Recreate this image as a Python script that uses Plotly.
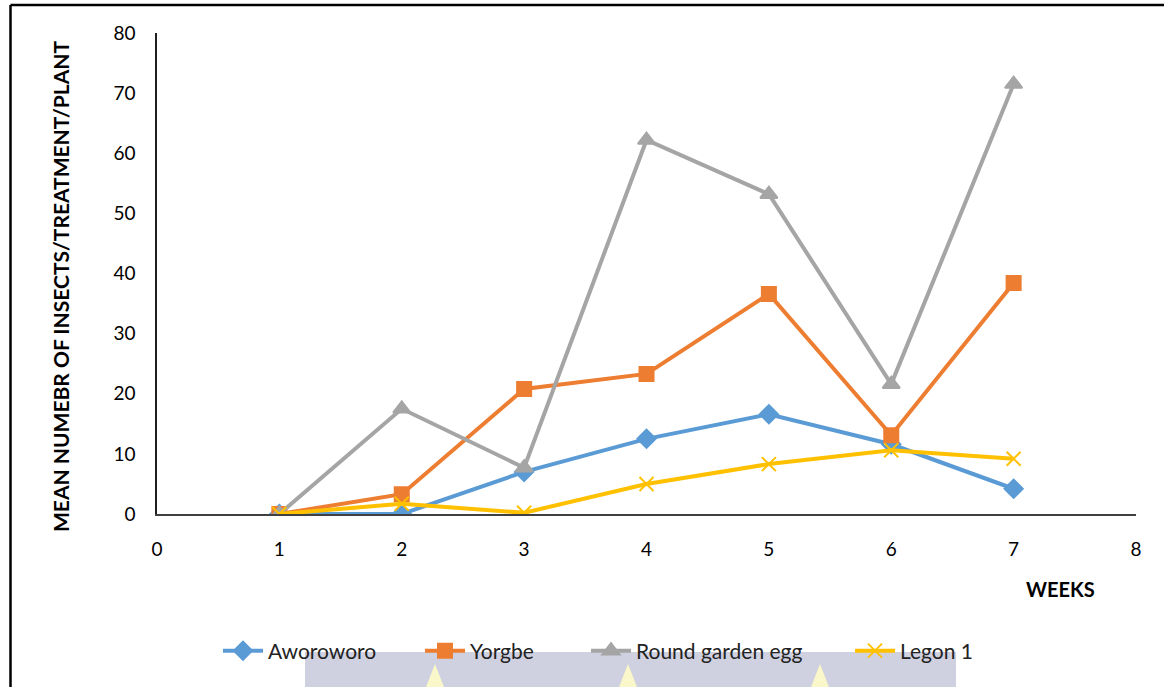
import plotly.graph_objects as go

# Weekly mean insect counts per treatment/plant for four eggplant varieties
weeks = [1, 2, 3, 4, 5, 6, 7]
aworoworo = [0, 0, 7.0, 12.5, 16.6, 11.6, 4.2]
yorgbe = [0, 3.3, 20.8, 23.3, 36.6, 13.1, 38.4]
round_garden_egg = [0, 17.5, 7.7, 62.2, 53.2, 21.6, 71.5]
legon_1 = [0, 1.7, 0.2, 5.0, 8.3, 10.6, 9.2]

x_ticks = [0, 1, 2, 3, 4, 5, 6, 7, 8]
y_ticks = [0, 10, 20, 30, 40, 50, 60, 70, 80]

W, H = 1164, 687
L, R, T, B = 157, 28, 33, 173
FONT = "Lato, 'Open Sans', sans-serif"


def px_to_paper(px, py):
    pw, ph = W - L - R, H - T - B
    return (px - L) / pw, (H - B - py) / ph


# name, values, colour, marker, size, legend id, legend left edge (px)
series = [
    ("Aworoworo", aworoworo, "#5B9BD5", "diamond", 14, "legend", 218),
    ("Yorgbe", yorgbe, "#ED7D31", "square", 14, "legend2", 420),
    ("Round garden egg", round_garden_egg, "#A5A5A5", "triangle-up", 15, "legend3", 586),
    ("Legon 1", legon_1, "#FFC000", "x-thin-open", 14, "legend4", 850),
]

fig = go.Figure()
legend_layout = {}
for name, vals, color, sym, size, leg, lx in series:
    fig.add_trace(go.Scatter(
        x=weeks, y=vals, name=name, mode="lines+markers", legend=leg,
        line=dict(color=color, width=4),
        marker=dict(symbol=sym, size=size, color=color,
                    line=dict(color=color, width=2)),
    ))
    px_, py_ = px_to_paper(lx, 651)
    legend_layout[leg] = dict(
        orientation="h", x=px_, xanchor="left", y=py_, yanchor="middle",
        bgcolor="rgba(0,0,0,0)", font=dict(size=21, color="#222"), itemwidth=40,
    )

shapes = []
# faint band behind the lower legend area
x0, y0 = px_to_paper(305, 652)
x1, y1 = px_to_paper(956, 700)
shapes.append(dict(type="rect", xref="paper", yref="paper", x0=x0, y0=y1, x1=x1, y1=y0,
                   fillcolor="rgba(200,201,218,0.85)", line=dict(width=0), layer="below"))
for cx in (435, 628, 820):
    ax, ay = px_to_paper(cx, 664)
    bl, by = px_to_paper(cx - 14, 700)
    br, _ = px_to_paper(cx + 14, 700)
    shapes.append(dict(type="path", xref="paper", yref="paper",
                       path=f"M {ax} {ay} L {br} {by} L {bl} {by} Z",
                       fillcolor="rgba(252,250,200,0.95)", line=dict(width=0), layer="below"))
# outer frame (left and top edges)
fx, fy_top = px_to_paper(10.5, 5)
_, fy_bot = px_to_paper(10.5, 700)
rx, _ = px_to_paper(1170, 5)
shapes.append(dict(type="line", xref="paper", yref="paper", x0=fx, x1=fx, y0=fy_bot, y1=fy_top,
                   line=dict(color="black", width=2.5)))
shapes.append(dict(type="line", xref="paper", yref="paper", x0=fx, x1=rx, y0=fy_top, y1=fy_top,
                   line=dict(color="black", width=2.5)))

ytx, yty = px_to_paper(60, 286)
wkx, wky = px_to_paper(1060, 589)

fig.update_layout(
    width=W, height=H,
    margin=dict(l=L, r=R, t=T, b=B),
    paper_bgcolor="white", plot_bgcolor="white",
    font=dict(family=FONT, color="black"),
    showlegend=True,
    xaxis=dict(range=[0, 8], tickvals=x_ticks, showgrid=False, zeroline=False,
               showline=True, linecolor="#404040", linewidth=1.5, ticks="",
               ticklabelstandoff=17, tickfont=dict(size=19, color="black")),
    yaxis=dict(range=[0, 80], tickvals=y_ticks, showgrid=False, zeroline=False,
               showline=True, linecolor="#202020", linewidth=1.5, ticks="",
               ticklabelstandoff=16, tickfont=dict(size=19, color="black")),
    shapes=shapes,
    annotations=[
        dict(text="<b>MEAN NUMEBR OF INSECTS/TREATMENT/PLANT</b>", xref="paper", yref="paper",
             x=ytx, y=yty, xanchor="center", yanchor="middle", textangle=-90,
             showarrow=False, font=dict(size=21, color="black")),
        dict(text="<b>WEEKS</b>", xref="paper", yref="paper", x=wkx, y=wky,
             xanchor="center", yanchor="middle",
             showarrow=False, font=dict(size=20, color="black")),
    ],
    **legend_layout,
)

fig.write_html("out.html")
